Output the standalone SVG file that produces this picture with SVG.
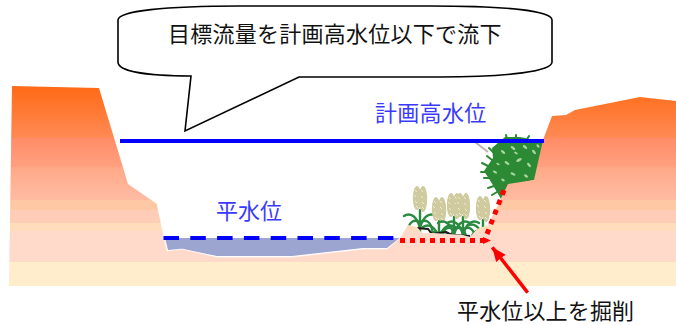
<svg xmlns="http://www.w3.org/2000/svg" width="676" height="325" viewBox="0 0 676 325">
  <style>
    text { font-family: "Noto Sans CJK JP", "Liberation Sans", sans-serif; font-size: 22px; }
    .blue { fill: #3a3aff; }
    .dark { fill: #111; }
    .leaf { fill: none; stroke: #2a8a40; stroke-width: 2.4; stroke-linecap: round; }
    .frond { fill: none; stroke: #2c8a35; stroke-width: 2; stroke-linecap: round; }
    .fleck { fill: #a9d6a0; }
    .grain { fill: #cfcb9f; }
    .husk { stroke: #eeecd4; stroke-width: 1; fill: none; }
    .red { fill: none; stroke: #ff0000; }
  </style>
  <defs>
    <!-- Soil strata: hard-edged colour bands from the bank tops down to the river bed -->
    <linearGradient id="soil" gradientUnits="userSpaceOnUse" x1="0" y1="86" x2="0" y2="286">
      <stop offset="0" stop-color="#ff6a14"/>
      <stop offset="0.26" stop-color="#ff8a55"/>
      <stop offset="0.26" stop-color="#ff8c66"/>
      <stop offset="0.405" stop-color="#ffa080"/>
      <stop offset="0.405" stop-color="#ffa888"/>
      <stop offset="0.57" stop-color="#ffbca2"/>
      <stop offset="0.57" stop-color="#ffc8a4"/>
      <stop offset="0.62" stop-color="#ffc8a4"/>
      <stop offset="0.62" stop-color="#ffccb8"/>
      <stop offset="0.685" stop-color="#ffccb8"/>
      <stop offset="0.685" stop-color="#ffdcbc"/>
      <stop offset="0.725" stop-color="#ffdcbc"/>
      <stop offset="0.725" stop-color="#ffdacb"/>
      <stop offset="0.88" stop-color="#ffdacb"/>
      <stop offset="0.88" stop-color="#ffedcc"/>
      <stop offset="1" stop-color="#ffedcc"/>
    </linearGradient>
    <marker id="head" markerUnits="userSpaceOnUse" markerWidth="16" markerHeight="14" refX="14" refY="6" orient="auto">
      <path d="M0,0 L14,6 L0,12 Z" fill="#ff0000"/>
    </marker>
    <!-- One rice plant: two-lobed grain head above arching leaves -->
    <g id="rice">
      <path class="leaf" d="M0,36 C0,28 0,22 0,14"/>
      <path class="leaf" d="M0,32 C-3,20 -10,16 -16,20"/>
      <path class="leaf" d="M0,32 C3,20 10,16 16,20"/>
      <path class="leaf" d="M-1,26 C-6,23 -11,26 -12,34"/>
      <path class="leaf" d="M1,26 C6,23 11,26 12,34"/>
      <ellipse class="grain" cx="-3" cy="2" rx="4.2" ry="12"/>
      <ellipse class="grain" cx="3" cy="3" rx="4.2" ry="13"/>
      <path class="husk" d="M-5,-6 L-3,-4 M1,-6 L3,-4 M-6,-1 L-4,1 M1,0 L3,2 M-5,5 L-3,7 M2,6 L4,8 M-4,10 L-2,12 M2,11 L4,13"/>
    </g>
  </defs>

  <g id="river-section">
    <!-- Vegetation sits behind the ground line -->
    <g id="reeds">
      <path d="M475,142 L488,152" stroke="#b5b8b0" stroke-width="2"/>
      <path d="M505,137 L520,137 L544,142 L535,180 L508,185 L501,199 L491,182 L484,171 L493,158 L492,148 Z" fill="#2c8a35"/>
      <path class="frond" d="M493,152 L489,148 M492,160 L487,156 M488,166 L482,163 M486,172 L481,172 M490,178 L484,178 M494,186 L488,188 M497,192 L492,195 M507,139 L506,135 M516,139 L516,135 M526,141 L529,136"/>
      <g class="fleck">
        <ellipse cx="503" cy="152" rx="2.6" ry="1.2" transform="rotate(40 503 152)"/>
        <ellipse cx="513" cy="148" rx="2.8" ry="1.2" transform="rotate(40 513 148)"/>
        <ellipse cx="525" cy="147" rx="2.6" ry="1.3" transform="rotate(40 525 147)"/>
        <ellipse cx="534" cy="152" rx="2.6" ry="1.3" transform="rotate(50 534 152)"/>
        <ellipse cx="507" cy="163" rx="2.8" ry="1.2" transform="rotate(35 507 163)"/>
        <ellipse cx="519" cy="160" rx="3" ry="1.5" transform="rotate(-30 519 160)"/>
        <ellipse cx="529" cy="165" rx="2.6" ry="1.3" transform="rotate(50 529 165)"/>
        <ellipse cx="495" cy="172" rx="2.4" ry="1.1" transform="rotate(30 495 172)"/>
        <ellipse cx="513" cy="174" rx="2.6" ry="1.2" transform="rotate(25 513 174)"/>
        <ellipse cx="526" cy="176" rx="2.2" ry="1.3" transform="rotate(40 526 176)"/>
        <ellipse cx="503" cy="180" rx="2" ry="1.1" transform="rotate(30 503 180)"/>
        <ellipse cx="498" cy="164" rx="1.8" ry="1" transform="rotate(30 498 164)"/>
        <ellipse cx="538" cy="146" rx="2" ry="1.1" transform="rotate(50 538 146)"/>
        <ellipse cx="516" cy="153" rx="2" ry="1" transform="rotate(30 516 153)"/>
      </g>
    </g>
    <g id="rice-field">
      <use href="#rice" x="420" y="196"/>
      <use href="#rice" x="439" y="207"/>
      <use href="#rice" x="454" y="203"/>
      <use href="#rice" x="463" y="203"/>
      <use href="#rice" x="483" y="206"/>
      <path d="M416,228 L428,229 L432,234 L446,232 L452,235 L470,236" fill="none" stroke="#1a1a1a" stroke-width="2"/>
    </g>

    <path id="water" d="M165,238 L400,238 L387,248 L363,248 L292,256 L217,256 L182,249 L168,250 Z" fill="#9ba5d0"/>
    <path id="ground" fill="url(#soil)" d="M12,86 L99,88 L128,184 L157,204 L167,251 L182,249 L217,257 L292,257 L363,249 L387,249 L400,238 L408,225 L417,227 L422,233 L433,233 L463,235 L470,237 L477,229 L488,225 L497,207 L508,184 L534,180 L543,140 L552,116 L566,115 L575,110 L640,97 L676,101 L676,286 L9,286 Z"/>
    <path d="M157,204 L167,251 L182,249 L217,257 L292,257 L363,249 L387,249 L400,238" fill="none" stroke="#fff" stroke-opacity="0.6" stroke-width="1"/>
  </g>

  <g id="connectors">
    <line id="high-water" x1="120" y1="141" x2="544" y2="141" stroke="#0000ff" stroke-width="4"/>
    <line id="normal-water" x1="163.5" y1="238" x2="395" y2="238" stroke="#0000ff" stroke-width="4" stroke-dasharray="15.5 11.3"/>
    <path id="cut-bed" class="red" d="M400,240.5 L484,240.5" stroke-width="5" stroke-dasharray="5 5"/>
    <path d="M483,237 L491,240.5 L483,244 Z" fill="#ff0000"/>
    <path id="cut-slope" class="red" d="M487,234 L506,185" stroke-width="5" stroke-dasharray="5 5.5"/>
    <line id="cut-arrow" class="red" x1="527.7" y1="292.7" x2="492.3" y2="247.3" stroke-width="3.5" marker-end="url(#head)"/>
  </g>

  <g id="callout">
    <path d="M191,76 C145,76 118,71 118,62 L118,20 C118,11 165,6 240,6 L430,6 C510,6 552,11 552,20 L552,62 C552,71 510,77 440,77 L299,77 L185,131 Z" fill="#fff" stroke="#000" stroke-width="1.6"/>
    <text class="dark" x="168" y="42" letter-spacing="0.25">目標流量を計画高水位以下で流下</text>
  </g>
  <g id="label-high"><text class="blue" x="375" y="121" letter-spacing="0.3">計画高水位</text></g>
  <g id="label-normal"><text class="blue" x="216" y="219">平水位</text></g>
  <g id="label-cut"><text class="dark" x="457" y="318.5" letter-spacing="0.15">平水位以上を掘削</text></g>
</svg>
